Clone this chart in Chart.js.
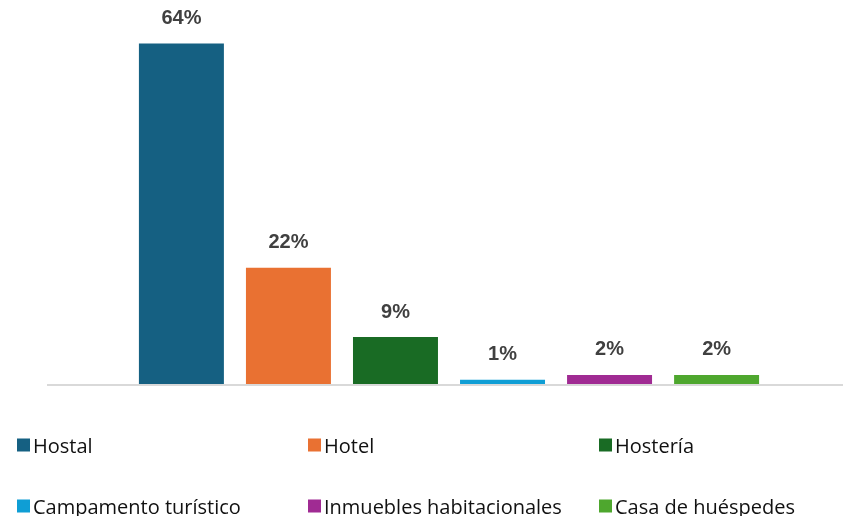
<!DOCTYPE html>
<html>
<head>
<meta charset="utf-8">
<script src="https://cdn.jsdelivr.net/npm/chart.js@4"></script>
<style>
  body { margin: 0; background: #fff; }
  #wrap { position: relative; width: 843px; height: 516px; }
  #box { position: absolute; left: 0; top: 0; width: 843px; height: 392px; }
  #leyenda { position: absolute; left: 0; top: 0; width: 843px; height: 516px; pointer-events: none;
    font-family: "Open Sans", sans-serif; font-size: 20px; color: #111; }
  .item { position: absolute; display: flex; align-items: center; white-space: nowrap; transform: translateY(-50%); }
  .item span.cuadro { width: 13px; height: 13px; margin-right: 3px; display: inline-block; }
</style>
</head>
<body>
<div id="wrap">
  <div id="box"><canvas id="grafico"></canvas></div>
  <div id="leyenda"></div>
</div>
<script>
const categorias = ['Hostal', 'Hotel', 'Hostería', 'Campamento turístico', 'Inmuebles habitacionales', 'Casa de huéspedes'];
const valores = [63.9, 21.8, 8.8, 0.8, 1.7, 1.7];
const colores = ['#156082', '#E97132', '#196B24', '#0F9ED5', '#A02B93', '#4EA72E'];

// etiquetas de valor encima de cada barra
const etiquetas = {
    id: 'etiquetas',
    afterDatasetsDraw(chart) {
        const ctx = chart.ctx;
        ctx.save();
        ctx.font = 'bold 20px "Liberation Sans", Arial, sans-serif';
        ctx.fillStyle = '#404040';
        ctx.textAlign = 'center';
        ctx.textBaseline = 'bottom';
        chart.data.datasets.forEach((ds, i) => {
            const bar = chart.getDatasetMeta(i).data[0];
            ctx.fillText(Math.round(ds.data[0]) + '%', bar.x, bar.y - 15);
        });
        ctx.restore();
    }
};

// linea base un poco mas larga que el area del grafico
const lineaBase = {
    id: 'lineaBase',
    beforeDatasetsDraw(chart) {
        const ctx = chart.ctx;
        const y = chart.scales.y.getPixelForValue(0);
        ctx.save();
        ctx.strokeStyle = '#d9d9d9';
        ctx.lineWidth = 2;
        ctx.beginPath();
        ctx.moveTo(47, y + 1);
        ctx.lineTo(chart.chartArea.right, y + 1);
        ctx.stroke();
        ctx.restore();
    }
};

const ctx = document.getElementById('grafico').getContext('2d');
new Chart(ctx, {
    type: 'bar',
    data: {
        labels: [''],
        datasets: categorias.map((c, i) => ({
            label: c,
            data: [valores[i]],
            backgroundColor: colores[i],
            barPercentage: 0.794,
            categoryPercentage: 0.815
        }))
    },
    options: {
        responsive: true,
        maintainAspectRatio: false,
        animation: false,
        layout: { padding: { top: 11, left: 55, right: 0, bottom: 8 } },
        plugins: { legend: { display: false }, tooltip: { enabled: false } },
        scales: {
            x: { display: false },
            y: { display: false, min: 0, max: 70 }
        }
    },
    plugins: [lineaBase, etiquetas]
});

// leyenda en tres columnas
const leyenda = document.getElementById('leyenda');
const columnas = [17, 308, 599];
const filas = [445, 506];
categorias.forEach((c, i) => {
    const div = document.createElement('div');
    div.className = 'item';
    div.style.left = columnas[i % 3] + 'px';
    div.style.top = filas[Math.floor(i / 3)] + 'px';
    const sq = document.createElement('span');
    sq.className = 'cuadro';
    sq.style.background = colores[i];
    div.appendChild(sq);
    div.appendChild(document.createTextNode(c));
    leyenda.appendChild(div);
});
</script>
</body>
</html>
